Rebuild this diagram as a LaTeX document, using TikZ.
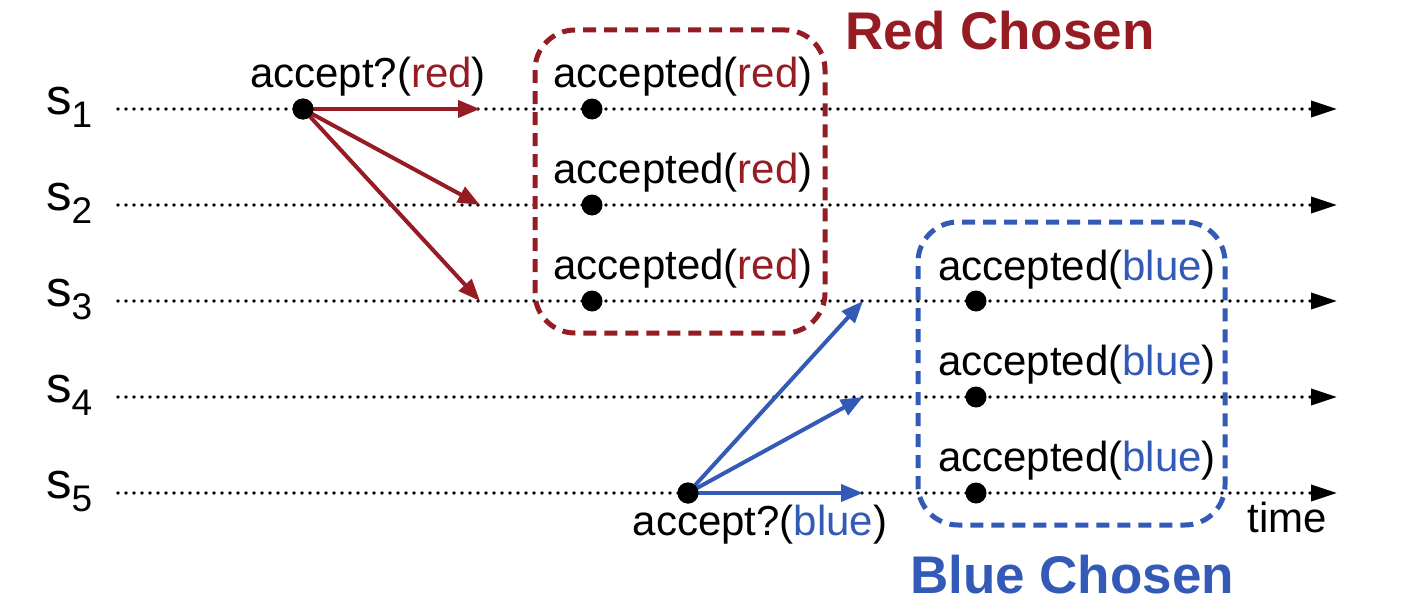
\documentclass[tikz,border=0pt]{standalone}
\usepackage{fontspec}
\setmainfont{Liberation Sans}
\usetikzlibrary{arrows.meta}
\definecolor{cred}{RGB}{150,28,36}
\definecolor{cblue}{RGB}{50,90,182}
\begin{document}
\begin{tikzpicture}[x=1pt,y=-1pt,
  timeline/.style={line width=3.6pt, dash pattern=on 0pt off 8pt, line cap=round,
    -{Triangle[length=26pt,width=16pt]}},
  msg/.style={line width=4pt, -{Triangle[length=22pt,width=17pt]}},
  evt/.style={circle, fill=black, inner sep=0pt, minimum size=21pt},
  lbl/.style={inner sep=0pt, anchor=base, font=\fontsize{42}{42}\selectfont},
  title/.style={inner sep=0pt, anchor=base, font=\fontsize{53}{53}\selectfont\bfseries},
  slbl/.style={inner sep=0pt, anchor=base west, font=\fontsize{51}{51}\selectfont},
  choice/.style={draw, line width=5pt, dash pattern=on 13pt off 8pt, rounded corners=40pt,
    minimum height=303pt, inner sep=0pt}
]
\useasboundingbox (0,0) rectangle (1402,610);

% process labels
\foreach \i/\y in {1/109,2/205,3/301,4/397,5/493}{
  \node[slbl] (s\i) at (46,\y+5) {s\raisebox{-13pt}{\fontsize{37}{37}\selectfont \i}};
  \coordinate (l\i) at (118,\y);
  \coordinate (r\i) at (1337,\y);
  \draw[timeline] (l\i) -- (r\i);
}

% choice boxes
\node[choice, draw=cred, minimum width=290pt] (redbox) at (680,181.5) {};
\node[choice, draw=cblue, minimum width=307pt] (bluebox) at (1071.5,373.5) {};

% red proposal
\coordinate (ra1) at (480,109);
\coordinate (ra2) at (480,205);
\coordinate (ra3) at (480,301);
\node[evt] (rsrc) at (303,109) {};
\foreach \k in {1,2,3}{ \draw[msg, cred] (rsrc.center) -- (ra\k); }
\node[evt] (rsrc2) at (303,109) {};

% blue proposal
\coordinate (ba3) at (863,301);
\coordinate (ba4) at (863,397);
\coordinate (ba5) at (863,493);
\node[evt] (bsrc) at (688,493) {};
\foreach \k in {3,4,5}{ \draw[msg, cblue] (bsrc.center) -- (ba\k); }
\node[evt] (bsrc2) at (688,493) {};

% accepted events
\node[evt] (ar1) at (592,109) {};
\node[evt] (ar2) at (592,205) {};
\node[evt] (ar3) at (592,301) {};
\node[evt] (ab3) at (976,301) {};
\node[evt] (ab4) at (976,397) {};
\node[evt] (ab5) at (976,493) {};

% texts
\node[lbl] (tar) at (368,87) {accept?(\textcolor{cred}{red})};
\node[lbl] (tab) at (760,535) {accept?(\textcolor{cblue}{blue})};
\node[lbl] (tr1) at (683,87) {accepted(\textcolor{cred}{red})};
\node[lbl] (tr2) at (683,183) {accepted(\textcolor{cred}{red})};
\node[lbl] (tr3) at (683,279) {accepted(\textcolor{cred}{red})};
\node[lbl] (tb3) at (1077,280) {accepted(\textcolor{cblue}{blue})};
\node[lbl] (tb4) at (1077,375) {accepted(\textcolor{cblue}{blue})};
\node[lbl] (tb5) at (1077,471) {accepted(\textcolor{cblue}{blue})};
\node[lbl] (time) at (1287,532) {time};
\node[title, text=cred] (redt) at (1000,50) {Red Chosen};
\node[title, text=cblue] (bluet) at (1072,593) {Blue Chosen};
\end{tikzpicture}
\end{document}
